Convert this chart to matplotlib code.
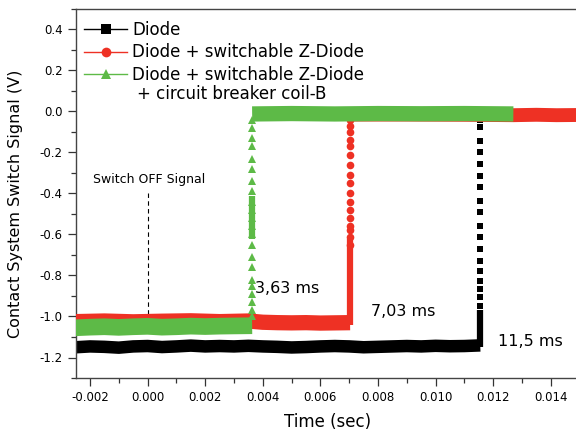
import numpy as np
import matplotlib
matplotlib.use("Agg")
import matplotlib.pyplot as plt
import matplotlib.ticker as ticker
from matplotlib.lines import Line2D

plt.rcParams['font.family'] = ['DejaVu Sans']

# --- data (time in sec, signal in V) ---
# black: Diode
t_blk_low = [-0.0025, -0.0020, -0.0015, -0.0010, -0.0005, 0.0000, 0.0005, 0.0010, 0.0015,
             0.0020, 0.0025, 0.0030, 0.0035, 0.0040, 0.0045, 0.0050, 0.0055, 0.0060,
             0.0065, 0.0070, 0.0075, 0.0080, 0.0085, 0.0090, 0.0095, 0.0100, 0.0105,
             0.0110, 0.01155]
v_blk_low = [-1.150, -1.146, -1.148, -1.152, -1.146, -1.144, -1.149, -1.146, -1.142,
             -1.146, -1.144, -1.146, -1.143, -1.146, -1.148, -1.151, -1.149, -1.146,
             -1.144, -1.146, -1.150, -1.148, -1.146, -1.144, -1.146, -1.143, -1.145,
             -1.144, -1.141]
t_blk_high = [0.01155, 0.0125, 0.0135, 0.0150]
v_blk_high = [-0.025, -0.024, -0.026, -0.025]
t_blk_edge = 0.01155
v_blk_solid = [-1.15, -0.97]
v_blk_pts = [-0.947, -0.903, -0.864, -0.825, -0.777, -0.728, -0.670, -0.612, -0.558,
             -0.490, -0.437, -0.369, -0.316, -0.257, -0.199, -0.146, -0.078, -0.04]

# red: Diode + switchable Z-Diode
t_red_low = [-0.0025, -0.0015, -0.0005, 0.0005, 0.0015, 0.0025, 0.0035, 0.0040, 0.0045,
             0.0050, 0.0055, 0.0060, 0.0065, 0.00703]
v_red_low = [-1.025, -1.022, -1.026, -1.023, -1.021, -1.025, -1.022, -1.028, -1.030,
             -1.031, -1.030, -1.032, -1.031, -1.030]
t_red_high = [0.00703, 0.0090, 0.0110, 0.0127, 0.0135, 0.0142, 0.0150]
v_red_high = [-0.015, -0.015, -0.016, -0.018, -0.016, -0.018, -0.017]
t_red_edge = 0.00703
v_red_solid = [-1.04, -0.62]
v_red_pts = [-0.65, -0.61, -0.58, -0.56, -0.52, -0.48, -0.44, -0.40, -0.35, -0.31,
             -0.26, -0.21, -0.17, -0.14, -0.10, -0.07, -0.04]

# green: Diode + switchable Z-Diode + circuit breaker coil-B
t_grn_low = [-0.0025, -0.0020, -0.0015, -0.0010, -0.0005, 0.0000, 0.0005, 0.0010,
             0.0015, 0.0020, 0.0025, 0.0030, 0.00363]
v_grn_low = [-1.055, -1.052, -1.050, -1.053, -1.050, -1.048, -1.052, -1.050, -1.047,
             -1.049, -1.047, -1.046, -1.045]
t_grn_high = [0.00363, 0.0050, 0.0065, 0.0080, 0.0095, 0.0110, 0.0127]
v_grn_high = [-0.012, -0.010, -0.012, -0.010, -0.011, -0.010, -0.012]
t_grn_edge = 0.00363
v_grn_solid = [-0.62, -0.41]
v_grn_pts = [-1.00, -0.97, -0.93, -0.89, -0.85, -0.82, -0.76, -0.71, -0.65, -0.60,
             -0.56, -0.52, -0.48, -0.44, -0.39, -0.34, -0.28, -0.23, -0.17, -0.13,
             -0.08, -0.04]

labels = ["Diode", "Diode + switchable Z-Diode", "Diode + switchable Z-Diode"]
c_blk = "#000000"
c_red = "#ee3124"
c_grn = "#5dba47"

fig = plt.figure(figsize=(5.76, 4.37), dpi=100)
ax = fig.add_axes([75.6/576, 59/437, 504/576, 369/437])

def draw(t_lo, v_lo, t_hi, v_hi, t_e, v_solid, v_pts, col, mk, ms, lw_lo, lw_hi, z):
    ax.plot(t_lo, v_lo, color=col, lw=lw_lo, solid_capstyle='butt', zorder=z)
    ax.plot(t_hi, v_hi, color=col, lw=lw_hi, solid_capstyle='butt', zorder=z)
    ax.plot([t_e, t_e], v_solid, color=col, lw=4.5, solid_capstyle='butt', zorder=z)
    ax.plot([t_e] * len(v_pts), v_pts, color=col, ls='none', marker=mk,
            ms=ms, mew=0, zorder=z)

draw(t_blk_low, v_blk_low, t_blk_high, v_blk_high, t_blk_edge, v_blk_solid, v_blk_pts,
     c_blk, 's', 5, 9, 6, 2)
draw(t_red_low, v_red_low, t_red_high, v_red_high, t_red_edge, v_red_solid, v_red_pts,
     c_red, 'o', 5.5, 11, 10, 3)
draw(t_grn_low, v_grn_low, t_grn_high, v_grn_high, t_grn_edge, v_grn_solid, v_grn_pts,
     c_grn, '^', 6, 12, 11, 4)

ax.set_xlim(-0.0025, 0.015)
ax.set_ylim(-1.3, 0.5)

ax.xaxis.set_major_locator(ticker.MultipleLocator(0.002))
ax.xaxis.set_minor_locator(ticker.MultipleLocator(0.001))
ax.xaxis.set_major_formatter(ticker.FormatStrFormatter('%.3f'))
ax.yaxis.set_major_locator(ticker.MultipleLocator(0.2))
ax.yaxis.set_minor_locator(ticker.MultipleLocator(0.1))
ax.yaxis.set_major_formatter(ticker.FormatStrFormatter('%.1f'))
ax.tick_params(which='major', direction='out', length=6, width=0.9, labelsize=8.5,
               color='#333333')
ax.tick_params(which='minor', direction='out', length=3.5, width=0.9, color='#333333')
for s in ax.spines.values():
    s.set_color('#444444')
    s.set_linewidth(1.0)

ax.set_xlabel("Time (sec)", fontsize=12, labelpad=6)
ax.set_ylabel("Contact System Switch Signal (V)", fontsize=11.5)
ax.yaxis.set_label_coords(-0.104, 0.4715)

handles = [Line2D([], [], color=c_blk, lw=1, marker='s', ms=6.5, mew=0),
           Line2D([], [], color=c_red, lw=1, marker='o', ms=7, mew=0),
           Line2D([], [], color=c_grn, lw=1, marker='^', ms=7.5, mew=0)]
ax.legend(handles, labels, loc='upper left', frameon=False, fontsize=12,
          handlelength=2.6, handletextpad=0.3, labelspacing=0.26,
          borderaxespad=0.1, bbox_to_anchor=(0.0, 0.99))
ax.text(-0.00037, 0.083, "+ circuit breaker coil-B", fontsize=12, va='center')

ax.text(-0.0019, -0.33, "Switch OFF Signal", fontsize=9, va='center')
ax.plot([0.00003, 0.00003], [-0.40, -1.0], color='black', lw=0.8, ls=(0, (4, 3)),
        zorder=1)
ax.text(0.00373, -0.865, "3,63 ms", fontsize=11.5, va='center')
ax.text(0.00775, -0.975, "7,03 ms", fontsize=11.5, va='center')
ax.text(0.01215, -1.12, "11,5 ms", fontsize=11.5, va='center')

fig.savefig("out.png", dpi=100)
